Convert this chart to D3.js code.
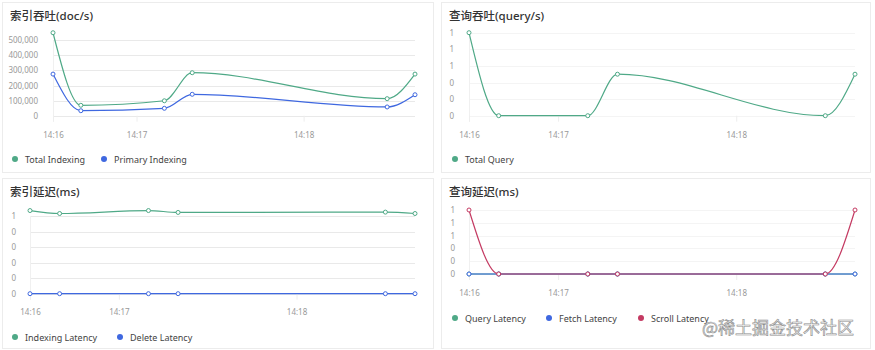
<!DOCTYPE html>
<html>
<head>
<meta charset="utf-8">
<script src="https://cdn.jsdelivr.net/npm/d3@7"></script>
<style>
  body { margin: 0; background: #fff; font-family: "Noto Sans", "Noto Sans CJK SC", sans-serif; }
</style>
</head>
<body>
<div id="charts"></div>
<script>
// sample times (same for every panel)
const times = ["14:16:30", "14:16:40", "14:17:10", "14:17:20", "14:18:30", "14:18:40"]
const xTickTimes = ["14:16:30", "14:17:00", "14:18:00"]

// 索引吞吐
const totalIndexing = [550000, 69000, 99000, 285000, 113000, 276000]
const primaryIndexing = [276000, 33000, 49000, 142000, 58000, 139000]
const indexingTicks = [0, 100000, 200000, 300000, 400000, 500000]

// 查询吞吐
const totalQuery = [1, 0, 0, 0.5, 0, 0.5]
const queryTicks = [0, 0.2, 0.4, 0.6, 0.8, 1]

// 索引延迟
const indexingLatency = [0.535, 0.516, 0.535, 0.523, 0.525, 0.516]
const deleteLatency = [0, 0, 0, 0, 0, 0]
const indexLatencyTicks = [0, 0.1, 0.2, 0.3, 0.4, 0.5]

// 查询延迟
const queryLatency = [0, 0, 0, 0, 0, 0]
const fetchLatency = [0, 0, 0, 0, 0, 0]
const scrollLatency = [1, 0, 0, 0, 0, 1]
const searchLatencyTicks = [0, 0.2, 0.4, 0.6, 0.8, 1]

const green = "#4fa987", blue = "#3f68e0", red = "#c43a62"
const parseTime = d3.timeParse("%H:%M:%S")

const svg = d3.select("#charts")
  .append("svg")
    .attr("width", 875)
    .attr("height", 350)

// panel layouts (box + plot area)
const panels = [
  { box: [2, 2, 431, 170], x0: 53, x1: 415, y0: 115.7, y1: 40.3, title: "索引吞吐(doc/s)",
    ticks: indexingTicks, fmt: d3.format(","), grid: "#e9e9e9", labelX: 38, xLabelY: 138, legendY: 159,
    series: [{ name: "Total Indexing", values: totalIndexing, color: green, lx: 15 },
             { name: "Primary Indexing", values: primaryIndexing, color: blue, lx: 104 }] },
  { box: [441, 2, 429, 170], x0: 469, x1: 855, y0: 115.7, y1: 32.7, title: "查询吞吐(query/s)",
    ticks: queryTicks, fmt: d3.format(".0f"), grid: "#f4f4f4", labelX: 454, xLabelY: 138, legendY: 159,
    series: [{ name: "Total Query", values: totalQuery, color: green, lx: 455 }] },
  { box: [2, 178, 431, 170], x0: 30, x1: 415, y0: 293.7, y1: 216, title: "索引延迟(ms)",
    ticks: indexLatencyTicks, fmt: d3.format(".0f"), grid: "#e9e9e9", labelX: 16, xLabelY: 315, legendY: 337,
    series: [{ name: "Indexing Latency", values: indexingLatency, color: green, lx: 15 },
             { name: "Delete Latency", values: deleteLatency, color: blue, lx: 120 }] },
  { box: [441, 178, 429, 170], x0: 469, x1: 855, y0: 274, y1: 210, title: "查询延迟(ms)",
    ticks: searchLatencyTicks, fmt: d3.format(".0f"), grid: "#f4f4f4", labelX: 455, xLabelY: 296, legendY: 318,
    series: [{ name: "Query Latency", values: queryLatency, color: green, lx: 455 },
             { name: "Fetch Latency", values: fetchLatency, color: blue, lx: 549 },
             { name: "Scroll Latency", values: scrollLatency, color: red, lx: 641 }] }
]

function drawPanel(p) {
  const g = svg.append("g")

  // panel frame
  g.append("rect")
    .attr("x", p.box[0] + 0.5).attr("y", p.box[1] + 0.5)
    .attr("width", p.box[2]).attr("height", p.box[3])
    .attr("fill", "#fff")
    .attr("stroke", "#ececec")

  // title
  g.append("text")
    .attr("x", p.box[0] + 8).attr("y", p.box[1] + 18)
    .attr("font-family", "'Noto Sans', 'Noto Sans CJK SC', sans-serif")
    .attr("font-size", 11.5)
    .attr("font-weight", 500)
    .attr("fill", "#333")
    .text(p.title)

  const x = d3.scaleTime()
    .domain(d3.extent(times, t => parseTime(t)))
    .range([p.x0, p.x1])
  const y = d3.scaleLinear()
    .domain(d3.extent(p.ticks))
    .range([p.y0, p.y1])

  // horizontal grid
  g.append("g")
    .selectAll("line")
    .data(p.ticks)
    .join("line")
      .attr("x1", p.x0).attr("x2", p.x1)
      .attr("y1", d => Math.round(y(d)) + 0.5).attr("y2", d => Math.round(y(d)) + 0.5)
      .attr("stroke", p.grid)

  // y labels
  g.append("g")
    .selectAll("text")
    .data(p.ticks)
    .join("text")
      .attr("x", p.labelX)
      .attr("y", d => y(d) + 3)
      .attr("text-anchor", "end")
      .attr("font-size", 8)
      .attr("fill", "#999")
      .text(d => p.fmt(d))

  // y axis line + x ticks
  g.append("line")
    .attr("x1", Math.round(p.x0) + 0.5).attr("x2", Math.round(p.x0) + 0.5)
    .attr("y1", p.y1).attr("y2", p.y0 + 6)
    .attr("stroke", "#f0f0f0")
  const xAxis = g.append("g")
    .attr("transform", `translate(0,${p.y0})`)
    .call(d3.axisBottom(x)
      .tickValues(xTickTimes.map(parseTime))
      .tickFormat(d3.timeFormat("%H:%M"))
      .tickSize(6))
  xAxis.select(".domain").remove()
  xAxis.selectAll("line").attr("stroke", "#eee")
  xAxis.selectAll("text")
    .attr("font-size", 8)
    .attr("fill", "#999")
    .attr("font-family", "'Noto Sans', sans-serif")
    .attr("y", p.xLabelY - p.y0)
    .attr("dy", 0)

  // lines and points
  const line = d3.line()
    .curve(d3.curveMonotoneX)
    .x((d, i) => x(parseTime(times[i])))
    .y(d => y(d))

  for (let s of p.series) {
    g.append("path")
      .datum(s.values)
      .attr("fill", "none")
      .attr("stroke", s.color)
      .attr("stroke-width", 1.2)
      .attr("d", line)
    g.append("g")
      .selectAll("circle")
      .data(s.values)
      .join("circle")
        .attr("cx", (d, i) => x(parseTime(times[i])))
        .attr("cy", d => y(d))
        .attr("r", 2)
        .attr("fill", "#fff")
        .attr("stroke", s.color)
        .attr("stroke-width", 1)

    // legend
    g.append("circle")
      .attr("cx", s.lx).attr("cy", p.legendY)
      .attr("r", 3)
      .attr("fill", s.color)
    g.append("text")
      .attr("x", s.lx + 10).attr("y", p.legendY + 3.5)
      .attr("font-size", 9)
      .attr("fill", "#444")
      .text(s.name)
  }
}

panels.forEach(drawPanel)

// watermark
svg.append("text")
  .attr("x", 702).attr("y", 334)
  .attr("font-family", "'Noto Sans CJK SC', sans-serif")
  .attr("font-size", 17)
  .attr("fill", "#f6f6f6")
  .attr("stroke", "#8c8c8c")
  .attr("stroke-width", 0.6)
  .text("@稀土掘金技术社区")
</script>
</body>
</html>
